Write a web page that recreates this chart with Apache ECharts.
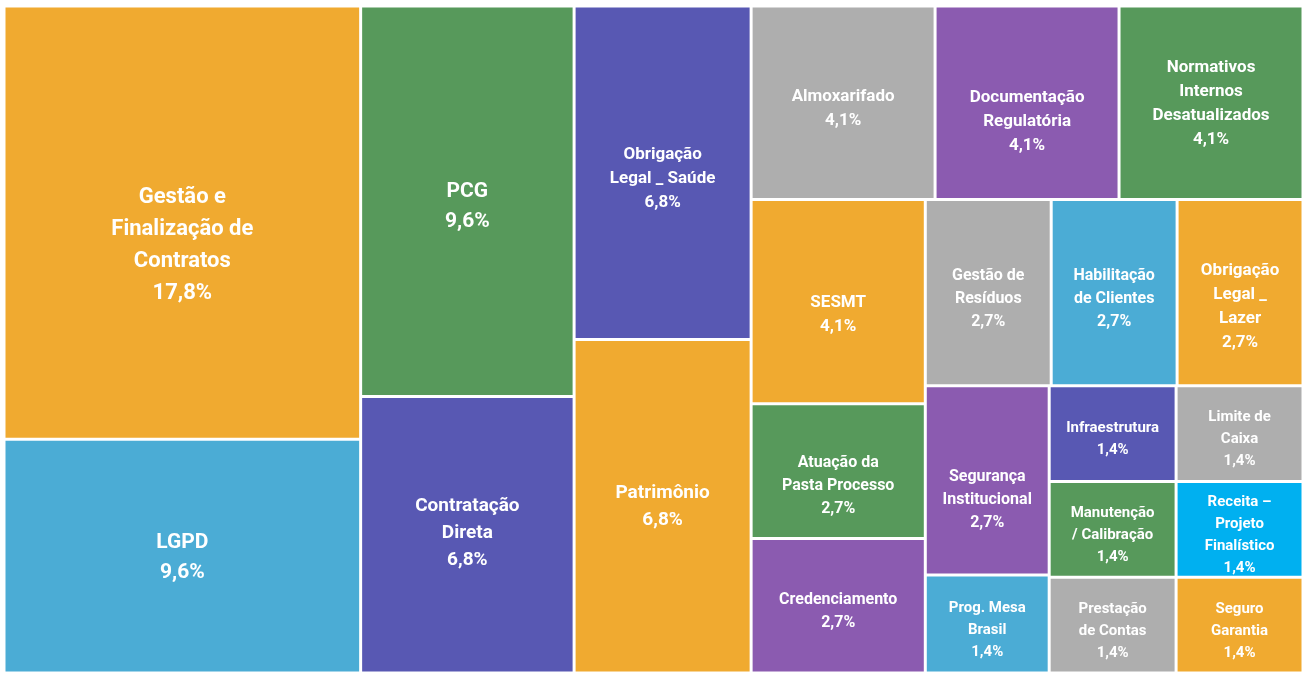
<!DOCTYPE html>
<html>
<head>
<meta charset="utf-8">
<script src="https://cdn.jsdelivr.net/npm/echarts@6.0.0/dist/echarts.min.js"></script>
<style>
    html, body { margin: 0; padding: 0; background: #fff; }
    #chart { width: 1307px; height: 673px; }
</style>
</head>
<body>
<div id="chart"></div>
<script>
// categorias (quebras de linha como no original)
var names = [
    'Gestão e\nFinalização de\nContratos',
    'LGPD',
    'PCG',
    'Contratação\nDireta',
    'Obrigação\nLegal _ Saúde',
    'Patrimônio',
    'Almoxarifado',
    'Documentação\nRegulatória',
    'Normativos\nInternos\nDesatualizados',
    'SESMT',
    'Gestão de\nResíduos',
    'Habilitação\nde Clientes',
    'Obrigação\nLegal _\nLazer',
    'Atuação da\nPasta Processo',
    'Segurança\nInstitucional',
    'Credenciamento',
    'Infraestrutura',
    'Limite de\nCaixa',
    'Manutenção\n/ Calibração',
    'Receita –\nProjeto\nFinalístico',
    'Prog. Mesa\nBrasil',
    'Prestação\nde Contas',
    'Seguro\nGarantia'
];

// percentuais (%)
var values = [17.8, 9.6, 9.6, 6.8, 6.8, 6.8, 4.1, 4.1, 4.1, 4.1,
    2.7, 2.7, 2.7, 2.7, 2.7, 2.7, 1.4, 1.4, 1.4, 1.4, 1.4, 1.4, 1.4];

// agrupamento (indices) - so serve para o squarify montar os blocos como no excel
var grouping = [
    [0, 1],
    [[2, 3],
     [[4, 5],
      [[6, 7, 8],
       [[9, 13, 15],
        [[10, 11, 12],
         [[14, 20],
          [[[16, 18], [17, 19]], [21, 22]]]]]]]]
];

var colorOf = {
    orange: '#F0AA30',
    green: '#57995B',
    indigo: '#5858B3',
    gray: '#AEAEAE',
    purple: '#8B5BB0',
    blue: '#4BACD5',
    cyan: '#00B0F0'
};
var colorIdx = ['orange', 'blue', 'green', 'indigo', 'indigo', 'orange', 'gray', 'purple', 'green', 'orange',
    'gray', 'blue', 'orange', 'green', 'purple', 'purple', 'indigo', 'gray', 'green', 'cyan', 'blue', 'gray', 'orange'];

// ajuste fino vertical dos rotulos (o excel nao centraliza igual)
var nudge = { 0: 17, 1: -4, 3: -7, 5: -6, 7: 13, 8: -5, 9: 7, 12: 8, 13: 9, 14: 14 };

function fontFor(i) {
    var v = values[i];
    if (i === 4 || i === 12) return 17;
    if (v > 15) return 22;
    if (v > 9) return 21;
    if (v > 6) return 19;
    if (v > 4) return 17;
    if (v > 2) return 16;
    return 15;
}

function build(node) {
    if (typeof node === 'number') {
        var fs = fontFor(node);
        return {
            name: names[node],
            value: values[node],
            itemStyle: { color: colorOf[colorIdx[node]], borderWidth: 1.5, borderColor: '#fff' },
            label: {
                fontSize: fs,
                lineHeight: Math.round(fs * 1.44),
                offset: [0, 6 + (nudge[node] || 0)]
            }
        };
    }
    return {
        name: '',
        children: node.map(build),
        itemStyle: { borderWidth: 0, gapWidth: 0 }
    };
}

var myChart = echarts.init(document.getElementById('chart'));

var option = {
    animation: false,
    series: [{
        type: 'treemap',
        left: 4,
        top: 6,
        right: 4,
        bottom: 0,
        sort: false,
        squareRatio: 0.5,
        roam: false,
        nodeClick: false,
        breadcrumb: { show: false },
        itemStyle: { borderWidth: 0, gapWidth: 0, borderColor: '#fff' },
        label: {
            show: true,
            position: 'inside',
            align: 'center',
            verticalAlign: 'middle',
            padding: 0,
            color: '#fff',
            fontWeight: 'bold',
            fontFamily: 'Roboto, sans-serif',
            overflow: 'none',
            formatter: function (p) {
                return p.name + '\n' + p.value.toFixed(1).replace('.', ',') + '%';
            }
        },
        upperLabel: { show: false },
        data: grouping.map(build)
    }]
};

// desenha
myChart.setOption(option);
</script>
</body>
</html>
